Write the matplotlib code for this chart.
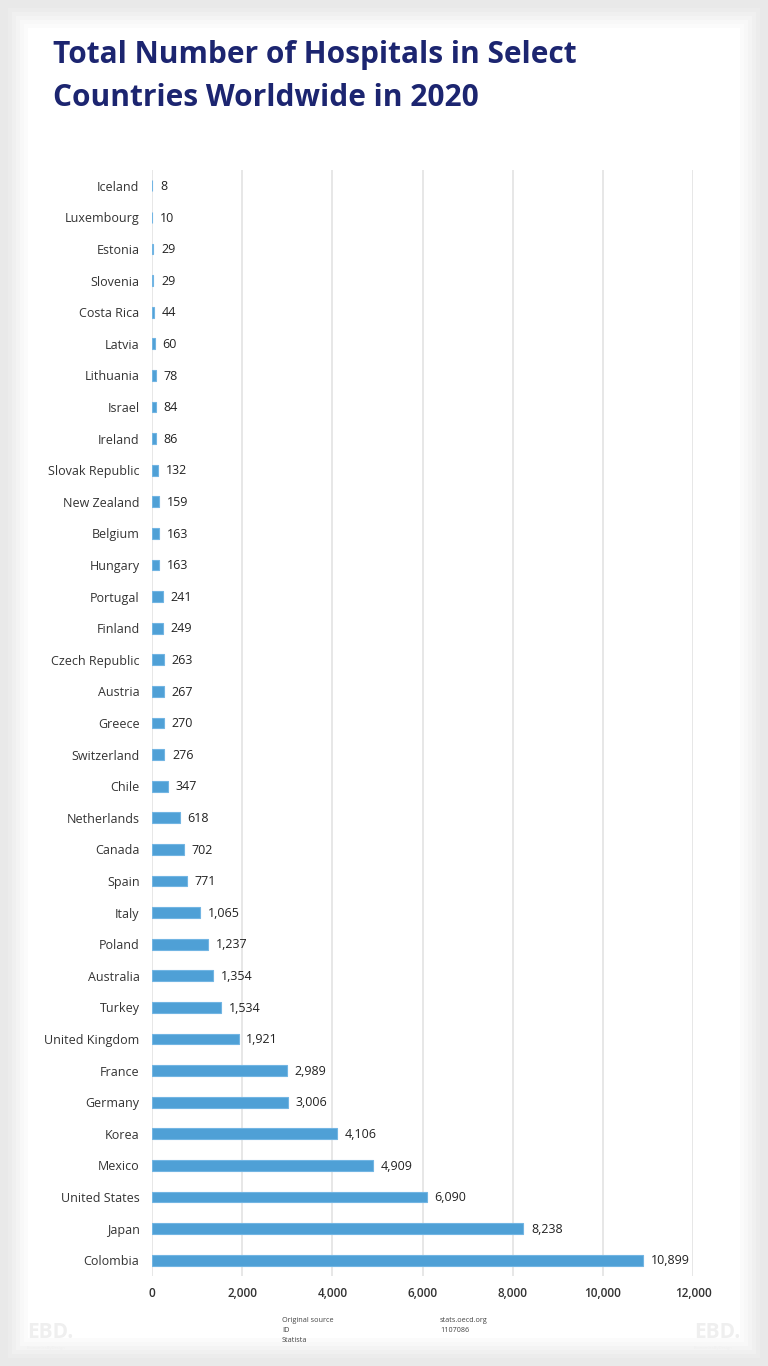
import matplotlib
matplotlib.use("Agg")
import matplotlib.pyplot as plt
from matplotlib.patches import Rectangle
from matplotlib.ticker import FuncFormatter

countries = ["Iceland", "Luxembourg", "Estonia", "Slovenia", "Costa Rica", "Latvia",
             "Lithuania", "Israel", "Ireland", "Slovak Republic", "New Zealand", "Belgium",
             "Hungary", "Portugal", "Finland", "Czech Republic", "Austria", "Greece",
             "Switzerland", "Chile", "Netherlands", "Canada", "Spain", "Italy", "Poland",
             "Australia", "Turkey", "United Kingdom", "France", "Germany", "Korea",
             "Mexico", "United States", "Japan", "Colombia"]
hospitals = [8, 10, 29, 29, 44, 60, 78, 84, 86, 132, 159, 163, 163, 241, 249, 263, 267,
             270, 276, 347, 618, 702, 771, 1065, 1237, 1354, 1534, 1921, 2989, 3006, 4106,
             4909, 6090, 8238, 10899]
xticks = [0, 2000, 4000, 6000, 8000, 10000, 12000]

W, H = 768, 1366
fig = plt.figure(figsize=(W / 100, H / 100), dpi=100)
fig.patch.set_facecolor("#e9e9e9")

# soft card shadow
for i, c in enumerate(["#ececec", "#f0f0f0", "#f4f4f4", "#f8f8f8", "#fbfbfb"]):
    m = 8 + i * 4
    fig.add_artist(Rectangle((m / W, m / H), 1 - 2 * m / W, 1 - 2 * m / H,
                             transform=fig.transFigure, facecolor=c, edgecolor="none", zorder=-10))
m = 28
fig.add_artist(Rectangle((m / W, m / H), 1 - 2 * m / W, 1 - 2 * m / H,
                         transform=fig.transFigure, facecolor="white", edgecolor="none", zorder=-9))

ax = fig.add_axes([152 / W, 1 - 1276 / H, 541 / W, (1276 - 170) / H])
ax.set_facecolor("none")
y = list(range(len(countries)))
ax.barh(y, hospitals, height=0.34, color="#4fa0d6", edgecolor="#72b5e3", linewidth=0.8, zorder=3)
ax.set_ylim(len(countries) - 0.5, -0.5)
ax.set_xlim(0, 12000)
ax.set_yticks(y)
ax.set_yticklabels(countries, fontsize=9, color="#333333", family="Open Sans")
ax.set_xticks(xticks)
ax.xaxis.set_major_formatter(FuncFormatter(lambda v, p: f"{int(v):,}"))
for lab in ax.get_xticklabels():
    lab.set_fontsize(8.5)
    lab.set_fontweight("semibold")
    lab.set_color("#333333")
    lab.set_family("Open Sans")
ax.tick_params(axis="both", length=0)
ax.tick_params(axis="y", pad=9)
ax.tick_params(axis="x", pad=8)
ax.grid(axis="x", color="#e0e0e0", linewidth=1.1, zorder=0)
for s in ax.spines.values():
    s.set_visible(False)

for yi, v in zip(y, hospitals):
    ax.annotate(f"{v:,}", (v, yi), xytext=(5.5, -0.5), textcoords="offset points",
                va="center", ha="left", fontsize=9, color="#222222", family="Open Sans")

title_lines = ["Total Number of Hospitals in Select", "Countries Worldwide in 2020"]
for line, ypix in zip(title_lines, [55, 98]):
    fig.text(53 / W, 1 - ypix / H, line, fontsize=21.5, fontweight="bold", color="#1c2570",
             family="Open Sans", va="center", ha="left")

for line, ypix in zip(["Original source", "ID", "Statista"], [1321, 1331, 1341]):
    fig.text(282 / W, 1 - ypix / H, line, fontsize=5.2, color="#444444",
             va="center", ha="left", family="Open Sans")
for line, ypix in zip(["stats.oecd.org", "1107086"], [1321, 1331]):
    fig.text(440 / W, 1 - ypix / H, line, fontsize=5.2, color="#444444",
             va="center", ha="left", family="Open Sans")

for x0 in (27, 694):
    fig.text(x0 / W, 1 - 1332 / H, "EBD.", fontsize=15, fontweight="bold",
             color="#efefef", va="center", ha="left", family="Open Sans")
    fig.text(x0 / W, 1 - 1348 / H, "EconomicsByDesign", fontsize=3,
             color="#efefef", va="center", ha="left", family="Open Sans")

fig.savefig("out.png", dpi=100, facecolor=fig.get_facecolor())
